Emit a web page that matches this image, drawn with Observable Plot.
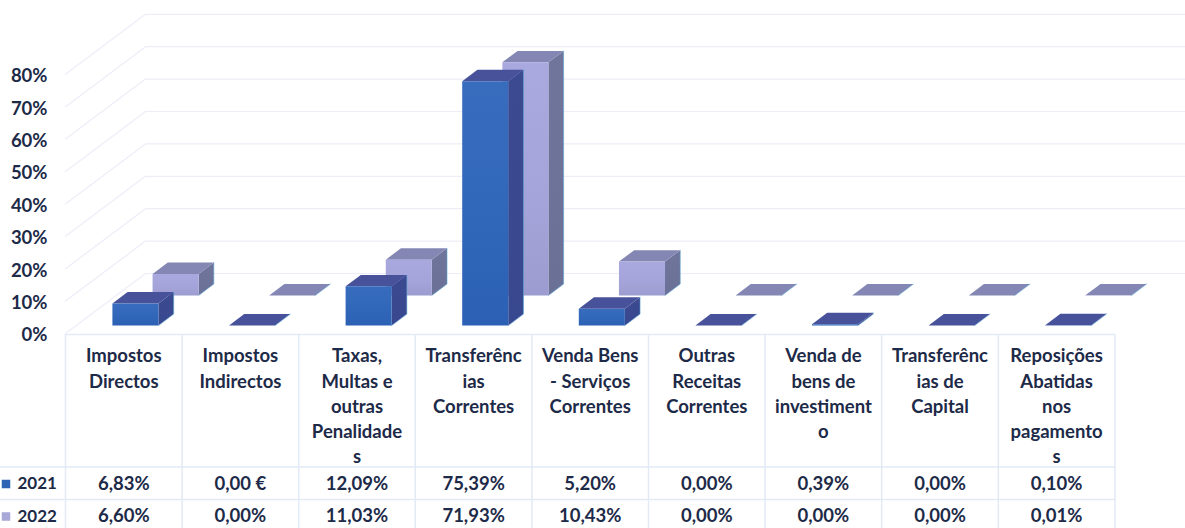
<!DOCTYPE html>
<html>
<head>
<meta charset="utf-8">
<script src="https://cdn.jsdelivr.net/npm/d3@7"></script>
<script src="https://cdn.jsdelivr.net/npm/@observablehq/plot@0.6"></script>
<style>
html,body{margin:0;padding:0;background:#fff;overflow:hidden}
svg{display:block}
</style>
</head>
<body>
<div id="chart"></div>
<script>
const categories = [
  "Impostos\nDirectos",
  "Impostos\nIndirectos",
  "Taxas,\nMultas e\noutras\nPenalidade\ns",
  "Transferênc\nias\nCorrentes",
  "Venda Bens\n- Serviços\nCorrentes",
  "Outras\nReceitas\nCorrentes",
  "Venda de\nbens de\ninvestiment\no",
  "Transferênc\nias de\nCapital",
  "Reposições\nAbatidas\nnos\npagamento\ns"
];
const values2021 = [6.83, 0, 12.09, 75.39, 5.20, 0, 0.39, 0, 0.10];
const values2022 = [6.60, 0, 11.03, 71.93, 10.43, 0, 0, 0, 0.01];
const labels2021 = ["6,83%", "0,00 €", "12,09%", "75,39%", "5,20%", "0,00%", "0,39%", "0,00%", "0,10%"];
const labels2022 = ["6,60%", "0,00%", "11,03%", "71,93%", "10,43%", "0,00%", "0,00%", "0,00%", "0,01%"];
const seriesNames = ["2021", "2022"];
const yTicks = [0, 10, 20, 30, 40, 50, 60, 70, 80];

// layout (pixels per unit of the two scales)
const W = 1185, H = 528, Y0 = 333, LEFT = 65;
const pxCat = 116.6, pxPct = 3.24;
const depthX = 80 / pxCat, depthY = 60 / pxPct;      // oblique offset of the back wall
const barStart = 0.311, barWidth = 0.395;
const rows = {"2021": {front: 0.133, back: 0.323}, "2022": {front: 0.635, back: 0.825}};
const rowY = px => (Y0 - px) / pxPct;                // table positions in y-scale units
const rowX = px => (px - LEFT) / pxCat;

function prism(values, name) {
  const {front, back} = rows[name];
  const out = {side: [], top: [], face: [], edge: []};
  values.forEach((v, i) => {
    const xl = i + barStart, xr = xl + barWidth;
    const P = (x, y, d) => ({x: x + d * depthX, y: y + d * depthY, key: name + i});
    out.face.push(P(xl,0,front), P(xr,0,front), P(xr,v,front), P(xl,v,front));
    out.side.push(P(xr,0,front), P(xr,0,back), P(xr,v,back), P(xr,v,front));
    out.top.push(P(xl,v,front), P(xr,v,front), P(xr,v,back), P(xl,v,back));
    out.edge.push(P(xr,v,back), P(xr,0,back), P(xr,0,front));
  });
  return out;
}
function faces(p, colors) {
  const m = (pts, fill) => Plot.line(pts, {x: "x", y: "y", z: "key", fill, stroke: "none"});
  return [
    m(p.side, colors.side), m(p.top, colors.top),
    Plot.line(p.edge, {x: "x", y: "y", z: "key", stroke: "#58a6d6", strokeWidth: 1, strokeOpacity: 0.55}),
    m(p.face, colors.face)
  ];
}

const gridPts = yTicks.flatMap(v => [
  {x: 0, y: v, v}, {x: depthX, y: v + depthY, v}, {x: (W - LEFT) / pxCat, y: v + depthY, v}
]);

const ink = "#1d2a48";
const fs = 18.5;
const tStyle = {fontSize: fs, fontWeight: 700, fill: ink};
const idx = d3.range(categories.length);
const row2021 = 483.5, row2022 = 516;

const defs = () => {
  const s = d3.create("svg:defs");
  const grad = (id, stops) => {
    const g = s.append("linearGradient").attr("id", id).attr("x1", 0).attr("y1", 0).attr("x2", 0).attr("y2", 1);
    stops.forEach(([o, c]) => g.append("stop").attr("offset", o).attr("stop-color", c));
  };
  grad("f21", [[0, "#386cbd"], [0.5, "#3268ba"], [1, "#2b60b4"]]);
  grad("f22", [[0, "#a9a9e0"], [0.6, "#a4a4da"], [1, "#9c9cd0"]]);
  grad("s21", [[0, "#3c4a90"], [1, "#38488f"]]);
  grad("s22", [[0, "#70759c"], [1, "#6a7096"]]);
  return s.node();
};

const chart = Plot.plot({
  width: W, height: H,
  marginLeft: LEFT, marginRight: 0, marginTop: 0, marginBottom: H - Y0,
  style: {fontFamily: "Lato", background: "#fff", overflow: "hidden"},
  x: {domain: [0, (W - LEFT) / pxCat], axis: null},
  y: {domain: [0, Y0 / pxPct], axis: null},
  marks: [
    defs,
    Plot.line(gridPts, {x: "x", y: "y", z: "v", stroke: "#ededf8", strokeWidth: 1.2}),
    Plot.axisY(yTicks, {anchor: "left", tickSize: 0, tickPadding: 18, dy: 2, tickFormat: d => d + "%", fontSize: fs, fontWeight: 700, color: ink, fill: ink, label: null}),
    ...faces(prism(values2022, "2022"), {side: "url(#s22)", top: "#8487b4", face: "url(#f22)"}),
    ...faces(prism(values2021, "2021"), {side: "url(#s21)", top: "#47529a", face: "url(#f21)"}),
    // table grid
    Plot.ruleX(d3.range(categories.length + 1), {x: d => d, y1: () => rowY(334), y2: () => rowY(H), stroke: "#e2eaf5", strokeWidth: 1.5}),
    Plot.ruleY([334], {y: d => rowY(d), x1: () => 0, x2: () => categories.length, stroke: "#e2eaf5", strokeWidth: 1.5}),
    Plot.ruleY([466.5, 499], {y: d => rowY(d), x1: () => rowX(0), x2: () => categories.length, stroke: "#e2eaf5", strokeWidth: 1.5}),
    // table text
    Plot.text(idx, {x: d => d + 0.5, y: () => rowY(344), text: d => categories[d], lineAnchor: "top", lineHeight: 25.2 / fs, ...tStyle}),
    Plot.text(idx, {x: d => d + 0.5, y: () => rowY(row2021), text: d => labels2021[d], ...tStyle}),
    Plot.text(idx, {x: d => d + 0.5, y: () => rowY(row2022), text: d => labels2022[d], ...tStyle}),
    Plot.text(seriesNames, {x: () => rowX(17), y: d => rowY(d === "2021" ? row2021 : row2022), text: d => d, textAnchor: "start", ...tStyle, fontSize: 17}),
    Plot.dot(seriesNames, {x: () => rowX(5.5), y: d => rowY(d === "2021" ? row2021 : row2022), symbol: "square", r: 4.8, stroke: "none", fill: d => d === "2021" ? "#2f64b5" : "#a8a8d8"})
  ]
});
document.getElementById("chart").appendChild(chart);
</script>
</body>
</html>
